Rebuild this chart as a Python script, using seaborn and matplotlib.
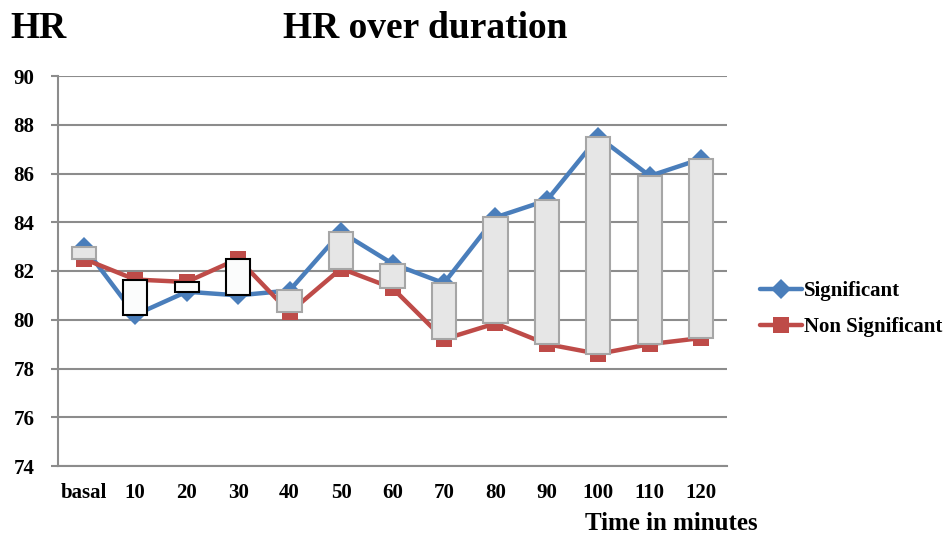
import matplotlib
matplotlib.use("Agg")
import matplotlib.pyplot as plt
import seaborn as sns
import pandas as pd
import numpy as np

categories = ["basal", "10", "20", "30", "40", "50", "60", "70", "80", "90", "100", "110", "120"]
significant = [83.0, 80.2, 81.15, 81.0, 81.2, 83.6, 82.3, 81.5, 84.2, 84.9, 87.5, 85.9, 86.6]
non_significant = [82.5, 81.65, 81.55, 82.5, 80.3, 82.1, 81.3, 79.2, 79.85, 79.0, 78.6, 79.0, 79.25]
y_ticks = [74, 76, 78, 80, 82, 84, 86, 88, 90]

sns.set_theme(style="white")
plt.rcParams['font.family'] = ['Liberation Serif', 'DejaVu Serif']
plt.rcParams['font.weight'] = 'bold'
plt.rcParams['text.color'] = 'black'
plt.rcParams['xtick.labelcolor'] = 'black'
plt.rcParams['ytick.labelcolor'] = 'black'

fig = plt.figure(figsize=(9.49, 5.35), dpi=100)
ax = fig.add_axes([58/949, 1-466/535, (727-58)/949, (466-76)/535])

df = pd.DataFrame({
    "pos": list(range(len(categories))) * 2,
    "value": significant + non_significant,
    "series": ["Significant"] * len(categories) + ["Non Significant"] * len(categories),
})

blue = "#4A7EBB"
red = "#BE4B48"
sns.lineplot(data=df[df.series == "Significant"], x="pos", y="value", ax=ax,
             color=blue, lw=3.2, marker="D", markersize=10, markeredgewidth=0,
             label="Significant", zorder=3)
sns.lineplot(data=df[df.series == "Non Significant"], x="pos", y="value", ax=ax,
             color=red, lw=3.2, marker="s", markersize=11, markeredgewidth=0,
             label="Non Significant", zorder=3)

# up/down bars
sig = np.array(significant)
ns = np.array(non_significant)
pos = np.arange(len(categories))
up = ns > sig
bottoms = np.minimum(sig, ns)
heights = np.abs(ns - sig)
ax.bar(pos[up], heights[up], bottom=bottoms[up], width=0.47,
       color="#FBFCFC", edgecolor="black", linewidth=1.5, zorder=4)
ax.bar(pos[~up], heights[~up], bottom=bottoms[~up], width=0.47,
       color="#E6E6E6", edgecolor="#A6A6A6", linewidth=1.5, zorder=4)

ax.set_xlim(-0.5, len(categories) - 0.5)
ax.set_ylim(74, 90)
ax.set_yticks(y_ticks)
ax.set_yticklabels([str(t) for t in y_ticks], fontsize=15, fontweight='bold', color='black')
ax.set_xticks(pos)
ax.set_xticklabels(categories, fontsize=15, fontweight='bold', color='black')
ax.set_xticks(np.arange(-0.5, len(categories)), minor=True)
ax.tick_params(axis='x', which='major', length=0, pad=12)
ax.tick_params(axis='x', which='minor', length=5, width=1.5, color="#8C8C8C", direction='out')
ax.tick_params(axis='y', length=5, width=1.5, color="#8C8C8C", pad=12, direction='out', left=True)
ax.grid(axis='y', color="#8C8C8C", lw=1.5)
ax.set_axisbelow(True)
for s in ["top", "right"]:
    ax.spines[s].set_visible(False)
for s in ["left", "bottom"]:
    ax.spines[s].set_color("#8C8C8C")
    ax.spines[s].set_linewidth(1.5)
ax.set_xlabel("")
ax.set_ylabel("")

ax.legend_.remove()
handles, labels = ax.get_legend_handles_labels()
leg = fig.legend(handles, labels, loc="center left", bbox_to_anchor=(752/949, 1-309/535),
                 frameon=False, prop={'size': 15, 'weight': 'bold'}, handlelength=2.0,
                 handletextpad=0.1, labelspacing=0.75, borderaxespad=0)
for t in leg.get_texts():
    t.set_color('black')

fig.text(10/949, 1-29/535, "HR", fontsize=27, fontweight='bold', va='center', ha='left', color='black')
fig.text(425/949, 1-29/535, "HR over duration", fontsize=27, fontweight='bold', va='center', ha='center', color='black')
fig.text(671/949, 1-524/535, "Time in minutes", fontsize=18, fontweight='bold', va='center', ha='center', color='black')

fig.savefig("out.png", dpi=100)
